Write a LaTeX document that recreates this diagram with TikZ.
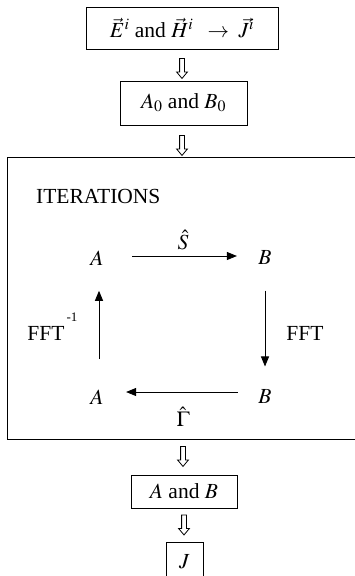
\documentclass[tikz,border=0pt]{standalone}
\usepackage{mathptmx}
\usepackage{fontspec}
\setmainfont{Liberation Serif}
\usetikzlibrary{arrows.meta,shapes.arrows}
\begin{document}
\begin{tikzpicture}[x=1pt,y=-1pt,
  every node/.style={font=\fontsize{21.5}{25}\selectfont},
  box/.style={draw, line width=1pt, inner sep=0pt},
  dnarrow/.style={draw, line width=0.8pt, single arrow, shape border rotate=270,
    single arrow head extend=3pt, single arrow tip angle=80, inner sep=2pt,
    minimum height=20pt, minimum width=10pt},
  flow/.style={line width=0.9pt, -{Triangle[length=10pt,width=8pt]}},
]
\useasboundingbox (0,0) rectangle (355,576);
\clip (0,0) rectangle (355,576);
\node[box, minimum width=192, minimum height=42] (src) at (182,28)
  {$\vec{E}^{i}$ and $\vec{H}^{i}\;\;\rightarrow\;\vec{J}^{i}$};
\node[box, minimum width=127, minimum height=44] (init) at (183.5,103) {$A_0$ and $B_0$};
\node[box, minimum width=351, minimum height=282] (iter) at (182.5,298) {};
\node[anchor=base west, inner sep=0pt] (title) at (36,203) {ITERATIONS};
\node[box, minimum width=106, minimum height=33] (res) at (184,491.5) {$A$ and $B$};
\node[box, minimum width=37, minimum height=40] (J) at (184.5,562) {$J$};
\node[dnarrow] (d1) at (182,67) {};
\node[dnarrow] (d2) at (182,144) {};
\node[dnarrow] (d3) at (183,455) {};
\node[dnarrow] (d4) at (184,523.5) {};
\node (A1) at (97,258) {$A$};
\node (B1) at (265,258) {$B$};
\node (A2) at (97,397) {$A$};
\node (B2) at (265,397) {$B$};
\node (S) at (183,240) {$\hat{S}$};
\node (G) at (183,417) {$\hat{\Gamma}$};
\node (fftL) at (46,333) {FFT};
\node (inv) at (72,317) {\fontsize{13}{13}\selectfont -1};
\node (fftR) at (305,333) {FFT};
\draw[flow] ([xshift=25pt,yshift=2pt]A1.east) -- ([xshift=-18pt,yshift=2pt]B1.west);
\draw[flow] ([yshift=-22pt]B1.south) -- ([yshift=20pt]B2.north);
\draw[flow] ([xshift=-17pt,yshift=5pt]B2.west) -- ([xshift=19pt,yshift=5pt]A2.east);
\draw[flow] ([xshift=2pt,yshift=27pt]A2.north) -- ([xshift=2pt,yshift=-22pt]A1.south);
\end{tikzpicture}
\end{document}
